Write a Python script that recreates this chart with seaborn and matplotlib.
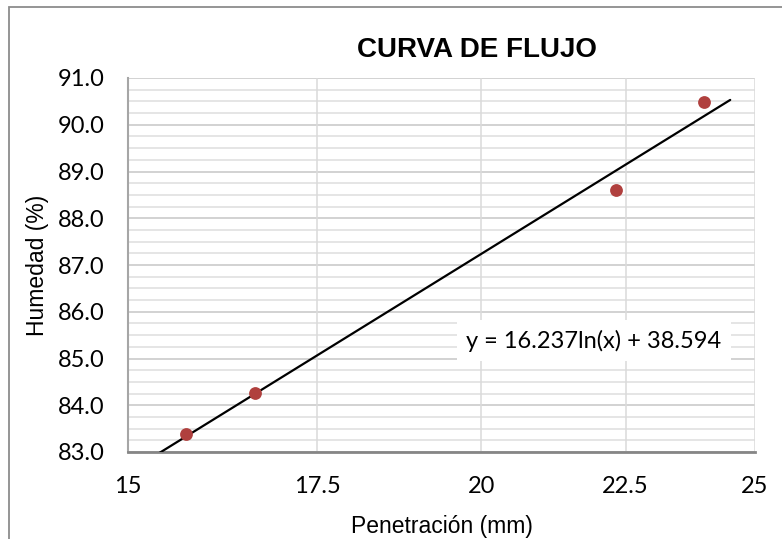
import numpy as np
import pandas as pd
import matplotlib
matplotlib.use("Agg")
import matplotlib.pyplot as plt
from matplotlib.patches import Rectangle
from matplotlib.ticker import FixedLocator, FixedFormatter, NullLocator
import seaborn as sns

# Flow curve data (penetration vs. moisture content)
penetracion = [15.72, 16.63, 22.32, 23.99]
humedad = [83.39, 84.26, 88.61, 90.49]

# Logarithmic trendline coefficients
coef_a = 16.237
coef_b = 38.594
trend_x_range = [15.2, 24.5]

x_ticks = [15, 17.5, 20, 22.5, 25]
x_tick_labels = ["15", "17.5", "20", "22.5", "25"]
y_ticks = [83.0, 84.0, 85.0, 86.0, 87.0, 88.0, 89.0, 90.0, 91.0]
y_tick_labels = [f"{v:.1f}" for v in y_ticks]

titulo = "CURVA DE FLUJO"
etiqueta_x = "Penetración (mm)"
etiqueta_y = "Humedad (%)"
ecuacion = f"y = {coef_a}ln(x) + {coef_b}"

sns.set_theme(style="white")
plt.rcParams["font.family"] = ["Lato", "DejaVu Sans"]
plt.rcParams["text.color"] = "black"
plt.rcParams["axes.labelcolor"] = "black"

fig = plt.figure(figsize=(7.82, 5.39), dpi=100)
ax = fig.add_axes([128 / 782, 1 - 452 / 539, (755 - 128) / 782, (452 - 78) / 539])

# Chart frame
fig.patches.append(Rectangle((9.3 / 782, -0.1), 1.2, 1 - 7 / 539 + 0.1,
                             transform=fig.transFigure, fill=False,
                             edgecolor="#8c8c8c", linewidth=1.3, zorder=0))

df = pd.DataFrame({"x": penetracion, "y": humedad})

ax.set_xscale("log")
ax.set_xlim(15, 25)
ax.set_ylim(83, 91)

# Gridlines
for yv in np.arange(83.0, 91.01, 0.25):
    major = abs(yv - round(yv)) < 1e-9
    ax.axhline(yv, color="#cbcbcb" if major else "#e0e0e0", lw=1.2, zorder=0)
for xv in x_ticks[1:]:
    ax.axvline(xv, color="#dadada", lw=1.1, zorder=0)

# Trendline
tx = np.geomspace(trend_x_range[0], trend_x_range[1], 200)
ty = coef_a * np.log(tx) + coef_b
sns.lineplot(x=tx, y=ty, ax=ax, color="black", lw=1.6, zorder=3)

sns.scatterplot(data=df, x="x", y="y", ax=ax, color="#b0403e", s=85,
                edgecolor="#b0403e", linewidth=0, zorder=4)

ax.xaxis.set_major_locator(FixedLocator(x_ticks))
ax.xaxis.set_major_formatter(FixedFormatter(x_tick_labels))
ax.xaxis.set_minor_locator(NullLocator())
ax.yaxis.set_major_locator(FixedLocator(y_ticks))
ax.yaxis.set_major_formatter(FixedFormatter(y_tick_labels))
ax.tick_params(axis="x", labelsize=17, pad=17, length=0, colors="black")
ax.tick_params(axis="y", labelsize=17, pad=17, length=0, colors="black")

for s in ["top", "right"]:
    ax.spines[s].set_visible(False)
ax.spines["left"].set_color("#a6a6a6")
ax.spines["left"].set_linewidth(1.5)
ax.spines["bottom"].set_color("#868686")
ax.spines["bottom"].set_linewidth(2)

ax.set_xlabel(etiqueta_x, family=["Liberation Sans"], fontsize=16.5, labelpad=13)
ax.set_ylabel(etiqueta_y, family=["Liberation Sans"], fontsize=16.5, labelpad=6)
fig.text(477 / 782, 1 - 57 / 539, titulo, family=["Liberation Sans"],
         fontweight="bold", fontsize=20, ha="center", va="baseline", color="black")

ax.text(0.743, 0.298, ecuacion, transform=ax.transAxes, ha="center", va="center",
        fontsize=17, color="black", zorder=5,
        bbox=dict(boxstyle="square,pad=0.4", facecolor="white", edgecolor="none"))

fig.savefig("out.png", dpi=100)
